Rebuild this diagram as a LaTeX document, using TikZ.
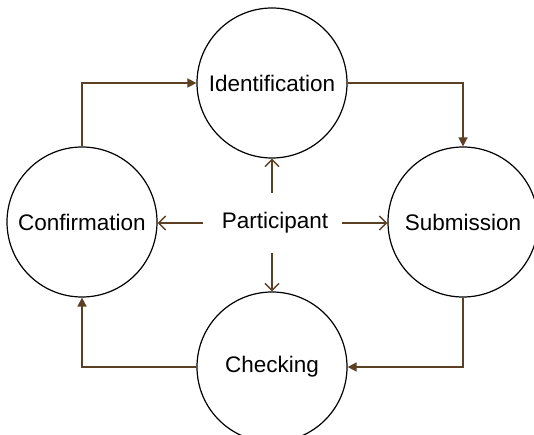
\documentclass[tikz,border=0pt]{standalone}
\usepackage{fontspec}
\setmainfont{Liberation Sans}
\usetikzlibrary{arrows.meta}
\definecolor{conn}{RGB}{92,64,36}
\tikzset{
  stage/.style={draw=black, line width=1.2pt, circle, minimum size=150pt, inner sep=0pt, font=\fontsize{22.5}{26}\selectfont},
  loopline/.style={draw=conn, line width=1.5pt, -{Triangle[length=9pt,width=9pt]}},
  partline/.style={draw=conn, line width=1.5pt, -{Straight Barb[length=7pt,width=14pt]}},
}
\begin{document}
\begin{tikzpicture}[x=1pt,y=-1pt]
\useasboundingbox (0,0) rectangle (534,435);
\node[stage] (ident) at (272,83) {Identification};
\node[stage] (subm) at (463,222) {Submission};
\node[stage] (check) at (272,367) {Checking};
\node[stage] (conf) at (82,222) {Confirmation};
\node[font=\fontsize{22.5}{26}\selectfont, inner sep=0pt] (part) at (275,223) {Participant};
\draw[loopline] (conf.north) |- (ident.west);
\draw[loopline] (ident.east) -| (subm.north);
\draw[loopline] (subm.south) |- (check.east);
\draw[loopline] (check.west) -| (conf.south);
\coordinate (pl) at ([xshift=-19pt]part.west);
\coordinate (pr) at ([xshift=14pt]part.east);
\coordinate (pu) at ([yshift=30pt]part.center);
\coordinate (pd) at ([yshift=-30pt]part.center);
\draw[partline] (pl) -- (pl -| conf.east);
\draw[partline] (pr) -- (pr -| subm.west);
\draw[partline] (pu -| ident.south) -- (ident.south);
\draw[partline] (pd -| check.north) -- (check.north);
\end{tikzpicture}
\end{document}
